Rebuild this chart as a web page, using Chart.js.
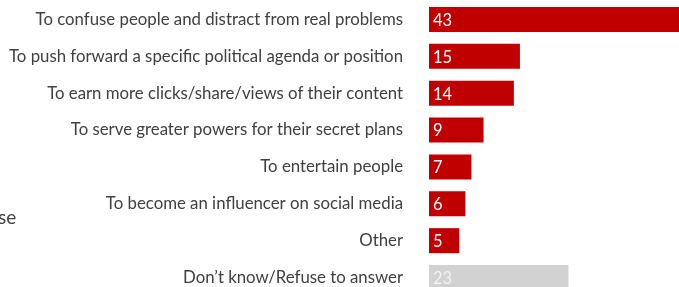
<!DOCTYPE html>
<html>
<head>
<meta charset="utf-8">
<script src="https://cdn.jsdelivr.net/npm/chart.js@4.4.1/dist/chart.umd.min.js"></script>
<style>
    html, body { margin: 0; padding: 0; background: #fff; overflow: hidden; width: 679px; height: 287px; }
    #wrap { position: relative; width: 679px; height: 287px; overflow: hidden; }
    #cut { position: absolute; left: -2px; top: 205px; font-family: Lato, sans-serif; font-size: 19px; color: #404040; }
    canvas { position: absolute; left: 0; top: 0; }
</style>
</head>
<body>
<div id="wrap">
    <canvas id="myChart" width="720" height="296"></canvas>
    <div id="cut">se</div>
</div>
<script>
    // reasons, top to bottom
    var categories = [
        "To confuse people and distract from real problems",
        "To push forward a specific political agenda or position",
        "To earn more clicks/share/views of their content",
        "To serve greater powers for their secret plans",
        "To entertain people",
        "To become an influencer on social media",
        "Other",
        "Don\u2019t know/Refuse to answer"
    ];
    var values = [43, 15, 14, 9, 7, 6, 5, 23];
    var barColors = ["#c00000", "#c00000", "#c00000", "#c00000", "#c00000", "#c00000", "#c00000", "#d2d2d2"];
    var valueColors = ["#ffffff", "#ffffff", "#ffffff", "#ffffff", "#ffffff", "#ffffff", "#ffffff", "#f2f2f2"];

    // writes the number at the start of each bar
    var valueLabels = {
        id: "valueLabels",
        afterDatasetsDraw: function (chart) {
            var ctx = chart.ctx;
            var meta = chart.getDatasetMeta(0);
            ctx.save();
            ctx.font = "16.5px Lato, sans-serif";
            ctx.textBaseline = "middle";
            ctx.textAlign = "left";
            meta.data.forEach(function (bar, i) {
                ctx.fillStyle = valueColors[i];
                ctx.fillText(values[i], bar.base + 4, bar.y + 1);
            });
            ctx.restore();
        }
    };

    new Chart("myChart", {
        type: "bar",
        data: {
            labels: categories,
            datasets: [{
                data: values,
                backgroundColor: barColors,
                borderWidth: 0,
                categoryPercentage: 1,
                barPercentage: 0.68
            }]
        },
        options: {
            indexAxis: "y",
            responsive: false,
            animation: false,
            layout: { padding: { top: 1, bottom: 0, left: 0, right: 0 } },
            plugins: {
                legend: { display: false },
                tooltip: { enabled: false }
            },
            scales: {
                x: {
                    display: false,
                    min: 0,
                    max: 48
                },
                y: {
                    grid: { display: false, drawTicks: false },
                    border: { display: false },
                    ticks: {
                        color: "#404040",
                        padding: 26,
                        font: { family: "Lato, sans-serif", size: 16.8 }
                    },
                    afterFit: function (scale) {
                        scale.width = 429;
                        scale.paddingTop = 0;
                        scale.paddingBottom = 0;
                    }
                }
            }
        },
        plugins: [valueLabels]
    });
</script>
</body>
</html>
